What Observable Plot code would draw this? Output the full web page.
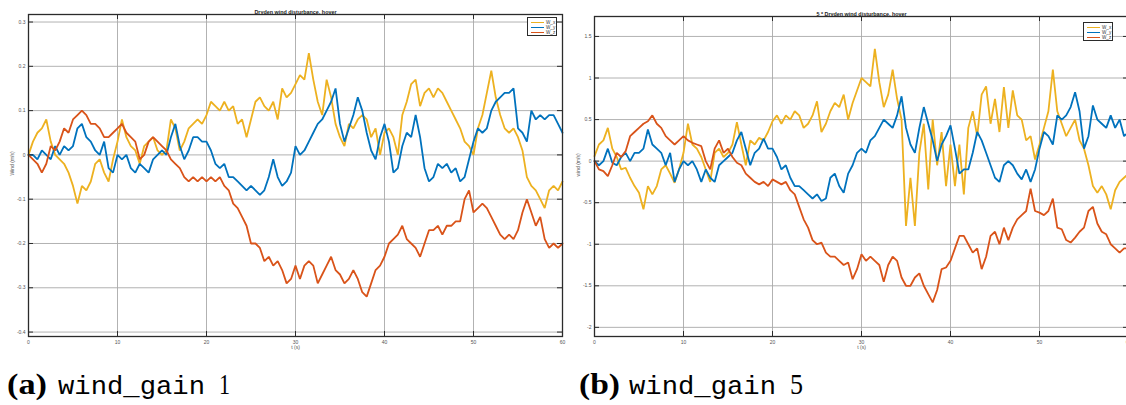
<!DOCTYPE html>
<html><head><meta charset="utf-8">
<script src="https://cdn.jsdelivr.net/npm/d3@7"></script>
<script src="https://cdn.jsdelivr.net/npm/@observablehq/plot@0.6"></script>
<style>
html,body{margin:0;padding:0;background:#fff;overflow:hidden;width:1126px;height:405px;}
#wrap{position:relative;width:1126px;height:405px;overflow:hidden;}
.panel{position:absolute;top:0;width:575px;height:355px;}
.panel svg{max-width:none !important;}
.legend{position:absolute;background:#fff;border:1.1px solid #2b2b2b;box-sizing:border-box;font:4.6px "Liberation Sans",Arial,sans-serif;color:#333;}
.legend .row{position:absolute;left:0;height:5px;width:100%;}
.legend .sw{position:absolute;left:3px;width:13px;height:1.3px;top:2px;}
.legend .lb{position:absolute;left:18px;top:-0.5px;line-height:5px;}
#caps{position:absolute;left:0;top:355px;}
</style></head><body>
<div id="wrap">
  <div id="pa" class="panel" style="left:0px"></div>
  <div id="pb" class="panel" style="left:566px"></div>
  <svg id="caps" width="1126" height="50" viewBox="0 355 1126 50">
    <g fill="#000">
      <text x="7" y="394" font-family="Liberation Serif, DejaVu Serif, serif" font-weight="bold" font-size="29" textLength="40" lengthAdjust="spacingAndGlyphs">(a)</text>
      <text x="58" y="394" font-family="Liberation Mono, DejaVu Sans Mono, monospace" font-size="26" textLength="147" lengthAdjust="spacingAndGlyphs">wind_gain</text>
      <text x="219" y="394" font-family="Liberation Serif, DejaVu Serif, serif" font-size="29" textLength="11" lengthAdjust="spacingAndGlyphs">1</text>
      <text x="579" y="394" font-family="Liberation Serif, DejaVu Serif, serif" font-weight="bold" font-size="29" textLength="41" lengthAdjust="spacingAndGlyphs">(b)</text>
      <text x="629" y="394" font-family="Liberation Mono, DejaVu Sans Mono, monospace" font-size="26" textLength="147" lengthAdjust="spacingAndGlyphs">wind_gain</text>
      <text x="790" y="394" font-family="Liberation Serif, DejaVu Serif, serif" font-size="29" textLength="13" lengthAdjust="spacingAndGlyphs">5</text>
    </g>
  </svg>
</div>
<script>
// ---- data (sampled every 0.5 s, 0..60 s) ----
const tStep = 0.5;
const times = d3.range(0, 60 + tStep / 2, tStep);

const seriesNames = ["W_x", "W_y", "W_z"];
const seriesColors = ["#EDB120", "#0072BD", "#D95319"];

const xTicks = [0, 10, 20, 30, 40, 50, 60];
const yTicksA = [-0.4, -0.3, -0.2, -0.1, 0, 0.1, 0.2, 0.3];
const yTicksB = [-2, -1.5, -1, -0.5, 0, 0.5, 1, 1.5];

// (a) wind_gain 1
const aWx = [0.00,0.03,0.05,0.06,0.08,0.03,0.00,-0.01,-0.02,-0.04,
  -0.07,-0.11,-0.07,-0.08,-0.06,-0.02,-0.01,-0.04,-0.06,-0.01,
  0.03,0.08,0.04,0.02,0.01,-0.02,0.02,0.03,0.04,0.01,
  0.00,0.01,0.08,0.06,0.01,0.03,0.06,0.07,0.08,0.07,
  0.09,0.12,0.11,0.10,0.12,0.10,0.11,0.07,0.08,0.04,
  0.08,0.12,0.13,0.11,0.10,0.12,0.08,0.15,0.13,0.14,
  0.16,
  0.18,0.17,0.23,0.17,0.12,0.09,0.17,0.13,0.07,0.04,
  0.02,0.07,0.06,0.08,0.09,0.08,0.04,0.06,0.00,0.05,
  0.06,0.04,0.00,0.09,0.12,0.16,0.17,0.11,0.14,0.15,
  0.13,0.15,0.14,0.12,0.10,0.08,0.06,0.03,0.02,0.00,
  0.06,0.09,0.14,0.19,0.13,0.09,0.06,0.05,0.06,0.04,
  0.01,-0.05,-0.07,-0.08,-0.10,-0.12,-0.08,-0.07,-0.08,-0.06];
const aWy = [0.00,0.00,-0.01,0.01,0.00,-0.01,0.02,0.00,0.02,0.01,
  0.02,0.06,0.07,0.04,0.03,0.01,0.00,0.03,-0.03,-0.04,
  0.00,-0.01,0.00,-0.03,-0.04,-0.02,-0.03,-0.04,-0.01,0.00,
  0.01,0.00,0.04,0.07,0.02,-0.01,0.01,0.04,0.04,0.03,
  0.03,0.01,-0.02,-0.03,-0.02,-0.05,-0.05,-0.06,-0.07,-0.08,
  -0.07,-0.08,-0.09,-0.08,-0.05,-0.01,-0.05,-0.07,-0.06,-0.04,
  0.02,
  0.00,0.01,0.03,0.05,0.07,0.08,0.10,0.12,0.15,0.07,
  0.03,0.06,0.09,0.13,0.10,0.05,0.01,-0.01,0.04,0.07,
  0.03,-0.04,-0.03,0.02,0.05,0.04,0.09,0.04,-0.03,-0.06,
  -0.05,-0.02,-0.03,-0.02,-0.04,-0.03,-0.06,-0.05,-0.01,0.03,
  0.06,0.05,0.06,0.10,0.12,0.13,0.14,0.14,0.15,0.06,
  0.05,0.03,0.10,0.08,0.09,0.08,0.09,0.09,0.07,0.05];
const aWz = [0.00,-0.01,-0.02,-0.04,-0.02,0.02,0.01,0.03,0.06,0.05,
  0.08,0.09,0.10,0.09,0.07,0.07,0.06,0.04,0.04,0.05,
  0.06,0.07,0.05,0.04,0.03,-0.01,0.00,0.03,0.04,0.03,
  0.02,0.01,-0.01,-0.02,-0.03,-0.05,-0.06,-0.05,-0.06,-0.05,
  -0.06,-0.05,-0.06,-0.05,-0.07,-0.08,-0.11,-0.12,-0.14,-0.16,
  -0.20,-0.20,-0.21,-0.24,-0.23,-0.25,-0.24,-0.26,-0.29,-0.28,
  -0.25,
  -0.28,-0.25,-0.24,-0.25,-0.29,-0.27,-0.25,-0.23,-0.26,-0.27,
  -0.29,-0.28,-0.26,-0.28,-0.31,-0.32,-0.29,-0.26,-0.25,-0.23,
  -0.20,-0.19,-0.18,-0.16,-0.19,-0.20,-0.21,-0.23,-0.20,-0.17,
  -0.17,-0.16,-0.18,-0.16,-0.16,-0.15,-0.15,-0.10,-0.08,-0.13,
  -0.12,-0.11,-0.12,-0.14,-0.16,-0.18,-0.19,-0.18,-0.19,-0.17,
  -0.13,-0.10,-0.13,-0.16,-0.14,-0.19,-0.21,-0.20,-0.21,-0.20];

// (b) wind_gain 5
const bWx = [0.06,0.20,0.25,0.40,0.15,0.05,-0.10,-0.08,-0.20,-0.30,
  -0.38,-0.58,-0.30,-0.40,-0.30,-0.10,-0.05,-0.15,-0.26,-0.10,
  0.10,0.45,0.20,0.15,0.05,-0.10,-0.25,0.10,0.15,0.05,
  0.10,0.20,0.47,0.20,-0.05,0.25,0.20,0.28,0.25,0.35,
  0.48,0.55,0.45,0.55,0.50,0.60,0.55,0.40,0.45,0.55,
  0.72,0.35,0.45,0.60,0.70,0.65,0.80,0.50,0.70,0.85,
  1.00,
  0.95,0.90,1.35,0.95,0.65,0.80,1.10,0.75,0.50,-0.78,
  -0.20,-0.78,0.10,0.45,-0.34,0.50,-0.05,0.35,-0.30,0.20,
  -0.30,0.20,-0.40,0.40,0.60,0.30,0.80,0.90,0.45,0.75,
  0.35,0.89,0.40,0.85,0.55,0.50,0.25,0.30,0.02,0.20,
  0.40,0.60,1.10,0.60,0.45,0.30,0.40,0.50,0.25,0.15,
  -0.05,-0.30,-0.38,-0.30,-0.40,-0.58,-0.35,-0.25,-0.20,-0.15];
const bWy = [0.00,-0.05,0.00,0.15,-0.02,-0.05,0.05,0.10,0.00,0.10,
  0.10,0.15,0.38,0.20,0.15,0.10,-0.05,0.10,-0.25,-0.10,
  0.00,-0.05,0.00,-0.10,-0.25,-0.10,-0.20,-0.25,-0.05,0.00,
  0.05,0.10,0.25,0.35,0.15,-0.05,0.10,0.15,0.27,0.15,
  0.15,0.05,-0.10,-0.05,-0.20,-0.30,-0.30,-0.35,-0.40,-0.45,
  -0.40,-0.48,-0.45,-0.20,-0.15,-0.30,-0.38,-0.15,-0.05,0.10,
  0.15,
  0.10,0.25,0.30,0.40,0.50,0.45,0.40,0.55,0.78,0.40,
  0.20,0.10,0.40,0.65,0.45,0.25,0.00,0.20,0.30,0.43,
  0.15,-0.15,-0.10,-0.10,0.10,0.35,0.25,0.10,-0.05,-0.20,
  -0.25,-0.05,0.00,-0.05,-0.15,-0.22,-0.10,-0.25,-0.10,0.15,
  0.35,0.30,0.20,0.55,0.50,0.55,0.65,0.83,0.60,0.15,
  0.30,0.67,0.50,0.45,0.40,0.55,0.40,0.50,0.30,0.35];
const bWz = [0.00,-0.10,-0.12,-0.18,-0.05,0.10,0.05,0.12,0.30,0.35,
  0.40,0.45,0.48,0.55,0.45,0.40,0.30,0.25,0.20,0.25,
  0.30,0.25,0.22,0.20,0.18,0.00,-0.10,0.15,0.25,0.10,
  0.15,0.05,-0.02,-0.05,-0.15,-0.20,-0.25,-0.28,-0.25,-0.30,
  -0.22,-0.25,-0.28,-0.25,-0.35,-0.40,-0.55,-0.70,-0.80,-0.95,
  -1.00,-0.98,-1.10,-1.15,-1.15,-1.20,-1.25,-1.22,-1.42,-1.30,
  -1.12,
  -1.20,-1.15,-1.20,-1.25,-1.45,-1.25,-1.15,-1.20,-1.40,-1.50,
  -1.50,-1.40,-1.35,-1.50,-1.60,-1.70,-1.55,-1.30,-1.28,-1.20,
  -1.05,-0.90,-0.90,-1.00,-1.10,-1.05,-1.30,-1.15,-0.90,-0.85,
  -1.00,-0.80,-0.95,-0.80,-0.70,-0.65,-0.60,-0.33,-0.60,-0.62,
  -0.65,-0.60,-0.45,-0.80,-0.82,-0.95,-0.98,-0.92,-0.85,-0.80,
  -0.60,-0.55,-0.75,-0.85,-0.88,-1.00,-1.05,-1.10,-1.05,-1.05];

// ---- drawing ----
const W = 575, H = 355;
const ML = 28, MR = 13, MB = 19;
const axisColor = "#2b2b2b";
const gridColor = "#a9a9a9";
const labelColor = "#555";

function panel({title, ylabel, domain, yticks, wx, wy, wz, marginTop, titleDy}) {
  const plotW = W - ML - MR;
  const plotH = H - marginTop - MB;
  const rows = (vals) => vals.map((v, i) => ({t: times[i], v}));
  const series = [wx, wy, wz];
  const fmt = d => String(d);
  return Plot.plot({
    width: W, height: H,
    marginLeft: ML, marginRight: MR, marginTop, marginBottom: MB,
    style: {fontFamily: "'Liberation Sans', Arial, sans-serif", fontSize: "5px", background: "transparent", overflow: "visible", maxWidth: "none"},
    x: {domain: [0, 60], label: null},
    y: {domain, label: null},
    marks: [
      Plot.gridX(xTicks, {stroke: gridColor, strokeOpacity: 1, strokeWidth: 0.9}),
      Plot.gridY(yticks, {stroke: gridColor, strokeOpacity: 1, strokeWidth: 0.9}),
      ...series.map((vals, k) => Plot.line(rows(vals), {x: "t", y: "v", stroke: seriesColors[k], strokeWidth: 1.8, strokeLinejoin: "miter"})),
      Plot.frame({stroke: axisColor, strokeWidth: 1.3}),
      Plot.tickY(yticks, {y: d => d, insetRight: plotW - 5, stroke: axisColor, strokeWidth: 1}),
      Plot.tickY(yticks, {y: d => d, insetLeft: plotW - 5, stroke: axisColor, strokeWidth: 1}),
      Plot.tickX(xTicks, {x: d => d, insetTop: plotH - 5, stroke: axisColor, strokeWidth: 1}),
      Plot.tickX(xTicks, {x: d => d, insetBottom: plotH - 5, stroke: axisColor, strokeWidth: 1}),
      Plot.axisX(xTicks, {tickSize: 0, tickPadding: 4, tickFormat: fmt, fill: labelColor, label: null}),
      Plot.axisY(yticks, {tickSize: 0, tickPadding: 3, tickFormat: fmt, fill: labelColor, label: null}),
      Plot.text([title], {frameAnchor: "top", dy: titleDy, fontWeight: "bold", fontSize: 5.4, fill: "#222"}),
      Plot.text(["t (s)"], {frameAnchor: "bottom", dy: 12, fill: labelColor}),
      Plot.text([ylabel], {frameAnchor: "left", dx: -16, rotate: -90, fill: labelColor})
    ]
  });
}

function legend(host, left, top) {
  const box = document.createElement("div");
  box.className = "legend";
  Object.assign(box.style, {left: left + "px", top: top + "px", width: "30px", height: "19px"});
  seriesNames.forEach((name, k) => {
    const row = document.createElement("div");
    row.className = "row";
    row.style.top = (2 + k * 5) + "px";
    row.innerHTML = `<div class="sw" style="background:${seriesColors[k]}"></div><div class="lb">${name}</div>`;
    box.appendChild(row);
  });
  host.appendChild(box);
}

document.getElementById("pa").appendChild(panel({
  title: "Dryden wind disturbance, hover", ylabel: "Wind (m/s)",
  domain: [-0.41, 0.317], yticks: yTicksA, wx: aWx, wy: aWy, wz: aWz,
  marginTop: 14, titleDy: -4.5
}));
document.getElementById("pb").appendChild(panel({
  title: "5 * Dryden wind disturbance, hover", ylabel: "wind (m/s)",
  domain: [-2.11, 1.74], yticks: yTicksB, wx: bWx, wy: bWy, wz: bWz,
  marginTop: 16, titleDy: -4.5
}));
const wrap = document.getElementById("wrap");
legend(wrap, 527, 17);
legend(wrap, 1083, 22);
</script>
</body></html>
